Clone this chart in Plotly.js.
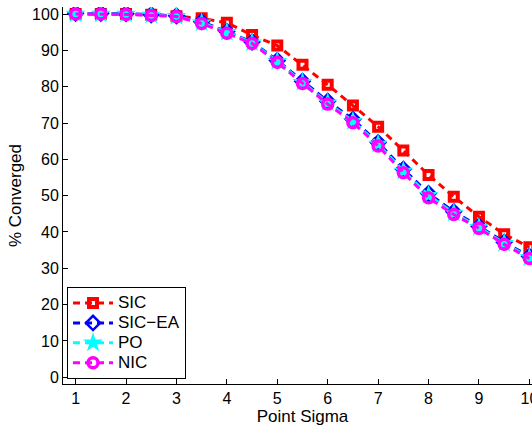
<!DOCTYPE html>
<html>
<head>
<meta charset="utf-8">
<script src="https://cdn.plot.ly/plotly-3.0.1.min.js"></script>
<style>
html,body{margin:0;padding:0;overflow:hidden;background:#fff;width:532px;height:429px;}
#chart{width:542px;height:429px;}
</style>
</head>
<body>
<div id="chart"></div>
<script>
const pointSigma = [1,1.5,2,2.5,3,3.5,4,4.5,5,5.5,6,6.5,7,7.5,8,8.5,9,9.5,10];
const sicValues   = [100,100,100,99.8,99.4,98.8,97.6,94.2,91.3,86.0,80.5,74.8,69.0,62.4,55.7,49.7,44.2,39.4,35.8];
const sicEaValues = [100.2,100.2,100.1,99.8,99.5,97.9,95.2,92.3,87.2,81.5,76.0,71.0,64.6,57.3,50.6,45.6,41.6,37.2,33.3];
const poValues    = [100,100,100,99.7,99.4,97.6,95.0,92.1,87.0,81.2,75.6,70.5,64.2,56.8,50.1,45.2,41.3,36.9,33.0];
const nicValues   = [100,100,99.9,99.6,99.3,97.4,94.7,91.9,86.7,80.9,75.2,70.1,63.7,56.3,49.4,44.8,41.0,36.6,32.7];
const seriesNames = ['SIC','SIC\u2212EA','PO','NIC'];
const xTicks = [1,2,3,4,5,6,7,8,9,10];
const yTicks = [0,10,20,30,40,50,60,70,80,90,100];

const dash = '7px,5px';
const legendName = n => '<span style="font-size:17px">' + n + '</span>';
const traces = [
  {x: pointSigma, y: sicValues, name: legendName(seriesNames[0]), mode: 'lines+markers',
   line: {color: '#ff0000', width: 3, dash: dash},
   marker: {symbol: 'square-open', size: 8, color: '#ff0000', line: {width: 4, color: '#ff0000'}}},
  {x: pointSigma, y: sicEaValues, name: legendName(seriesNames[1]), mode: 'lines+markers',
   line: {color: '#0000ff', width: 3, dash: dash},
   marker: {symbol: 'diamond-open', size: 11, color: '#0000ff', line: {width: 2.5, color: '#0000ff'}}},
  {x: pointSigma, y: poValues, name: legendName(seriesNames[2]), mode: 'lines+markers',
   line: {color: '#00ffff', width: 3, dash: dash},
   marker: {symbol: 'star', size: 15, color: '#00ffff', line: {width: 0}}},
  {x: pointSigma, y: nicValues, name: legendName(seriesNames[3]), mode: 'lines+markers',
   line: {color: '#ff00ff', width: 3, dash: dash},
   marker: {symbol: 'circle-open', size: 10, color: '#ff00ff', line: {width: 3.5, color: '#ff00ff'}}}
];

const fontFam = 'Liberation Sans, Arial, Helvetica, sans-serif';
const layout = {
  width: 542, height: 429,
  margin: {l: 63, r: 0, t: 7, b: 45, pad: 0},
  paper_bgcolor: '#ffffff', plot_bgcolor: '#ffffff',
  font: {family: fontFam, size: 14, color: '#000000'},
  showlegend: true,
  xaxis: {
    range: [0.75, 10.25], tickvals: xTicks, ticktext: xTicks.map(String),
    ticks: 'inside', ticklen: 5, tickcolor: '#000', tickwidth: 1,
    showline: true, linecolor: '#000', linewidth: 1, mirror: false,
    showgrid: false, zeroline: false,
    tickfont: {size: 16, family: fontFam},
    title: {text: 'Point Sigma', font: {size: 17, family: fontFam}, standoff: 0}
  },
  yaxis: {
    range: [-1.84, 101.93], tickvals: yTicks, ticktext: yTicks.map(String),
    ticks: 'inside', ticklen: 5, tickcolor: '#000', tickwidth: 1,
    showline: true, linecolor: '#000', linewidth: 1, mirror: false,
    showgrid: false, zeroline: false,
    tickfont: {size: 16, family: fontFam},
    ticklabelstandoff: 0,
    title: {text: '% Converged', font: {size: 17, family: fontFam}, standoff: 6}
  },
  legend: {
    x: 0.0084, y: 0.013, xanchor: 'left', yanchor: 'bottom',
    bgcolor: '#ffffff', bordercolor: '#000', borderwidth: 1,
    font: {size: 13, family: fontFam, color: '#000'},
    tracegroupgap: 0, itemwidth: 40
  }
};

Plotly.newPlot('chart', traces, layout, {displayModeBar: false, staticPlot: true});
</script>
</body>
</html>
